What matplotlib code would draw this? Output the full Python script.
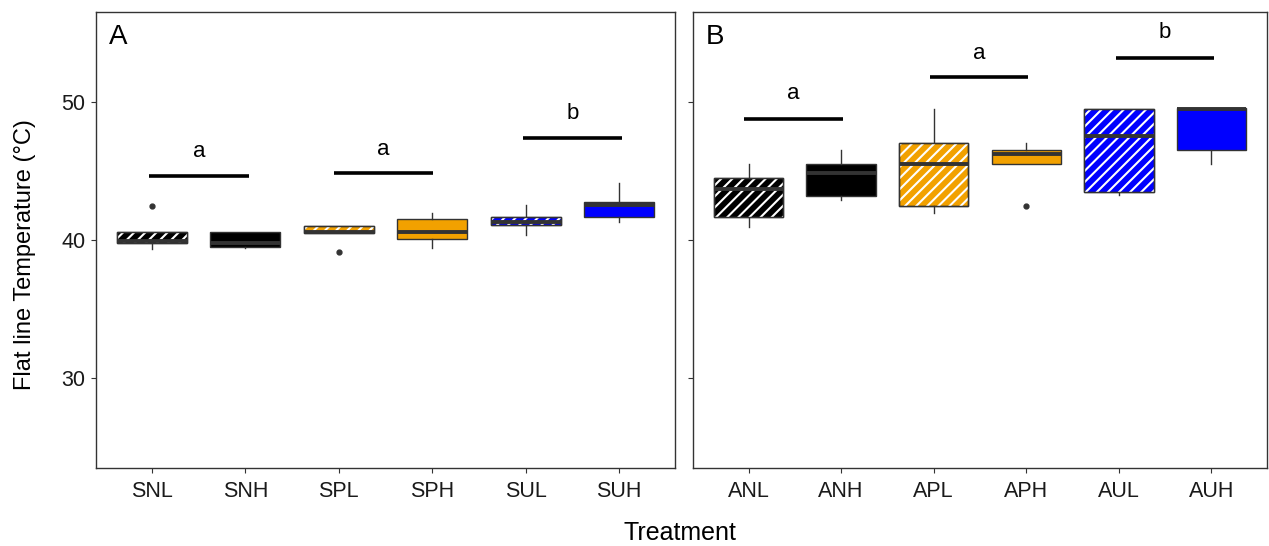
import matplotlib
matplotlib.use("Agg")
import matplotlib.pyplot as plt
from matplotlib.patches import PathPatch

plt.rcParams['font.family'] = ['Liberation Sans', 'DejaVu Sans']
plt.rcParams['hatch.linewidth'] = 1.5

# ---------------- data ----------------
left_labels = ["SNL", "SNH", "SPL", "SPH", "SUL", "SUH"]
left_q1 = [39.80, 39.47, 40.53, 40.07, 41.08, 41.64]
left_med = [39.95, 39.80, 40.61, 40.56, 41.27, 42.51]
left_q3 = [40.60, 40.60, 41.03, 41.50, 41.68, 42.77]
left_lo = [39.33, 39.45, 40.53, 39.42, 40.36, 41.32]
left_hi = [40.60, 40.60, 41.03, 41.97, 42.53, 44.10]
left_fliers = [[42.46], [], [39.11], [], [], []]

right_labels = ["ANL", "ANH", "APL", "APH", "AUL", "AUH"]
right_q1 = [41.68, 43.20, 42.46, 45.47, 43.45, 46.49]
right_med = [43.67, 44.82, 45.50, 46.22, 47.52, 49.47]
right_q3 = [44.50, 45.52, 47.01, 46.51, 49.47, 49.54]
right_lo = [40.96, 42.89, 41.97, 45.47, 43.25, 45.50]
right_hi = [45.47, 46.49, 49.47, 46.99, 49.47, 49.54]
right_fliers = [[], [], [], [42.48], [], []]

box_colors = ["#000000", "#000000", "#F2A100", "#F2A100", "#0000FF", "#0000FF"]
hatched = [True, False, True, False, True, False]

# significance bars
left_sig_x0 = [0.97, 2.95, 4.97]
left_sig_x1 = [2.04, 4.01, 6.03]
left_sig_y = [44.63, 44.82, 47.35]
left_sig_text_y = [46.38, 46.56, 49.18]
left_sig_labels = ["a", "a", "b"]

right_sig_x0 = [0.95, 2.96, 4.97]
right_sig_x1 = [2.02, 4.02, 6.03]
right_sig_y = [48.77, 51.79, 53.18]
right_sig_text_y = [50.56, 53.50, 54.97]
right_sig_labels = ["a", "a", "b"]

panel_labels = ["A", "B"]

# ---------------- figure ----------------
W, H = 1269, 546
fig = plt.figure(figsize=(W / 100, H / 100), dpi=100)
bottom = (H - 468.3) / H
height = (468.3 - 11.7) / H
axL = fig.add_axes([96 / W, bottom, 579 / W, height])
axR = fig.add_axes([693 / W, bottom, 574 / W, height])

edge = "#333333"


def draw_panel(ax, labels, q1, med, q3, lo, hi, fliers, sx0, sx1, sy, sty, slab, plabel):
    stats = []
    for i in range(len(labels)):
        stats.append(dict(med=med[i], q1=q1[i], q3=q3[i], whislo=lo[i], whishi=hi[i],
                          fliers=fliers[i], label=labels[i]))
    pos = list(range(1, len(labels) + 1))
    bp = ax.bxp(stats, positions=pos, widths=0.75, patch_artist=True, showcaps=False,
                boxprops=dict(edgecolor=edge, linewidth=1.0),
                whiskerprops=dict(color=edge, linewidth=1.0),
                medianprops=dict(color=edge, linewidth=2.8, solid_capstyle="butt"),
                flierprops=dict(marker="o", markersize=3.5, markerfacecolor=edge,
                                markeredgecolor=edge, linestyle="none"))
    for i, box in enumerate(bp["boxes"]):
        box.set_facecolor(box_colors[i])
        box.set_zorder(2)
        if hatched[i]:
            hp = PathPatch(box.get_path(), facecolor="none", edgecolor="white",
                           hatch="///", linewidth=0, zorder=2.1)
            ax.add_patch(hp)
            bd = PathPatch(box.get_path(), facecolor="none", edgecolor=edge,
                           linewidth=1.0, zorder=2.2)
            ax.add_patch(bd)
    for m in bp["medians"]:
        m.set_zorder(2.5)
    for i in range(len(sx0)):
        ax.plot([sx0[i], sx1[i]], [sy[i], sy[i]], color="black", linewidth=2.6,
                solid_capstyle="butt", zorder=3)
        ax.text((sx0[i] + sx1[i]) / 2, sty[i], slab[i], ha="center", va="center",
                fontsize=16, color="black")
    ax.set_xlim(0.4, 6.6)
    ax.set_ylim(23.49, 56.51)
    ax.set_yticks([30, 40, 50])
    ax.set_xticks(pos)
    ax.set_xticklabels(labels)
    ax.tick_params(axis="both", length=3.5, width=0.8, color=edge, labelsize=15.5,
                   labelcolor="#1a1a1a", pad=4)
    ax.tick_params(axis="x", pad=6)
    for sp in ax.spines.values():
        sp.set_color(edge)
        sp.set_linewidth(1.0)
    ax.text(0.022, 0.945, plabel, transform=ax.transAxes, ha="left", va="center",
            fontsize=20, color="black")


draw_panel(axL, left_labels, left_q1, left_med, left_q3, left_lo, left_hi, left_fliers,
           left_sig_x0, left_sig_x1, left_sig_y, left_sig_text_y, left_sig_labels, panel_labels[0])
draw_panel(axR, right_labels, right_q1, right_med, right_q3, right_lo, right_hi, right_fliers,
           right_sig_x0, right_sig_x1, right_sig_y, right_sig_text_y, right_sig_labels, panel_labels[1])
axR.set_yticklabels([])

fig.text(25 / W, 1 - 255 / H, "Flat line Temperature (°C)", rotation=90, ha="center",
         va="center", fontsize=17, color="black")
fig.text(680 / W, 1 - 533 / H, "Treatment", ha="center", va="center", fontsize=18,
         color="black")

fig.savefig("out.png", dpi=100, facecolor="white")
